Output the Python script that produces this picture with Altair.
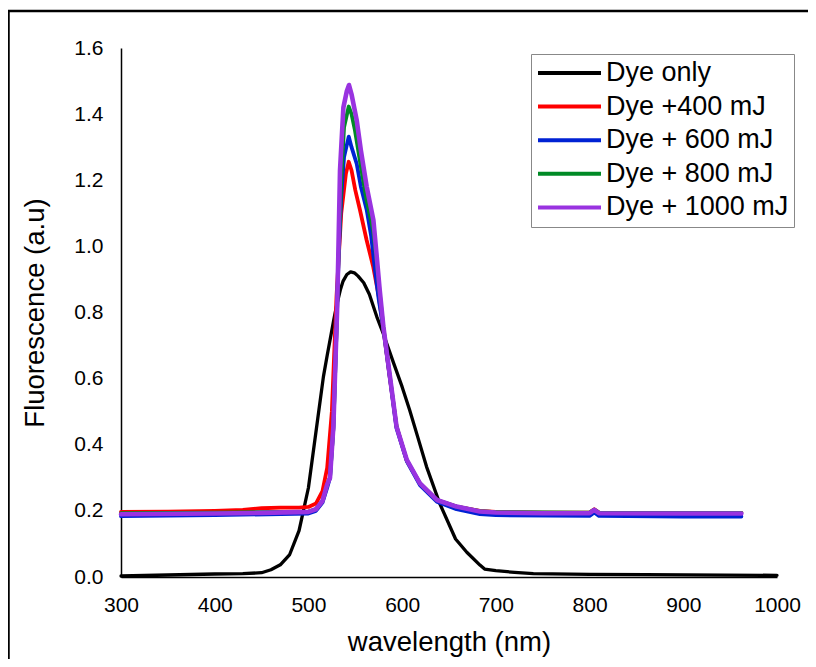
import altair as alt
import pandas as pd

FONT = "Liberation Sans"

series_names = ["Dye only", "Dye +400 mJ", "Dye + 600 mJ", "Dye + 800 mJ", "Dye + 1000 mJ"]
series_colors = ["#000000", "#ff0000", "#0022d4", "#008a25", "#9933e0"]
series_widths = [3.3, 3.8, 3.8, 3.8, 4.6]

dye_wl = [300, 350, 400, 430, 450, 460, 470, 480, 490, 500, 510, 516, 520, 527, 530, 534, 537, 541, 545,
          549, 553, 559, 565, 573, 580, 591, 600, 608, 617, 626, 640, 657, 669, 683, 688, 700, 720, 740,
          800, 860, 1000]
dye_val = [0.003, 0.006, 0.009, 0.010, 0.013, 0.022, 0.037, 0.068, 0.140, 0.270, 0.480, 0.606, 0.670,
           0.777, 0.820, 0.868, 0.895, 0.915, 0.923, 0.920, 0.910, 0.890, 0.855, 0.787, 0.735, 0.646,
           0.575, 0.505, 0.420, 0.334, 0.223, 0.115, 0.075, 0.036, 0.024, 0.019, 0.014, 0.010, 0.008,
           0.007, 0.005]

r400_wl = [300, 350, 400, 430, 450, 470, 490, 500, 508, 515, 520, 525, 530, 535, 540, 543, 546, 550,
           555, 562, 569, 575, 580, 587, 594, 605, 619, 637, 658, 683, 700, 750, 800, 805, 810, 900, 962]
r400_val = [0.197, 0.198, 0.200, 0.203, 0.208, 0.210, 0.210, 0.212, 0.222, 0.260, 0.330, 0.500, 0.850,
            1.100, 1.220, 1.256, 1.230, 1.170, 1.110, 1.020, 0.940, 0.850, 0.750, 0.600, 0.455, 0.352,
            0.283, 0.233, 0.213, 0.200, 0.197, 0.195, 0.195, 0.205, 0.195, 0.194, 0.194]

b600_wl = [300, 400, 500, 508, 515, 520, 523, 526.6, 530, 532, 535, 538, 543, 546, 551.5, 556, 562.2,
           567, 571, 575, 580, 587, 594, 605, 619, 637, 658, 683, 700, 800, 805, 810, 900, 962]
b600_val = [0.184, 0.187, 0.192, 0.200, 0.225, 0.270, 0.300, 0.450, 0.750, 0.950, 1.150, 1.270, 1.332,
            1.300, 1.250, 1.180, 1.110, 1.030, 0.929, 0.840, 0.750, 0.600, 0.450, 0.350, 0.278, 0.228,
            0.205, 0.190, 0.187, 0.185, 0.195, 0.185, 0.183, 0.183]

g800_wl = [300, 400, 500, 508, 515, 520, 523, 526.6, 530, 532, 535, 538, 543, 546, 549.7, 556, 562,
           569, 573, 576, 580, 587, 594, 605, 619, 637, 658, 683, 700, 800, 805, 810, 962]
g800_val = [0.193, 0.195, 0.198, 0.205, 0.230, 0.280, 0.300, 0.450, 0.750, 0.960, 1.200, 1.360, 1.423,
            1.400, 1.350, 1.240, 1.140, 1.050, 0.950, 0.860, 0.755, 0.605, 0.455, 0.353, 0.283, 0.233,
            0.213, 0.199, 0.196, 0.195, 0.204, 0.195, 0.194]

p1000_wl = [300, 400, 450, 500, 508, 515, 520, 523, 526.6, 530.5, 531.8, 533.7, 537.3, 541, 543.3, 546,
            551.5, 556, 562.2, 569.3, 572.9, 576, 580, 587, 594, 605, 619, 637, 658, 683, 700, 750, 800,
            805, 810, 900, 962]
p1000_val = [0.190, 0.192, 0.194, 0.197, 0.205, 0.230, 0.280, 0.300, 0.455, 0.800, 0.960, 1.230, 1.420,
             1.470, 1.488, 1.460, 1.382, 1.290, 1.180, 1.080, 0.969, 0.870, 0.757, 0.606, 0.455, 0.354,
             0.283, 0.233, 0.213, 0.198, 0.195, 0.193, 0.193, 0.203, 0.193, 0.192, 0.192]

x_ticks = [300, 400, 500, 600, 700, 800, 900, 1000]
y_ticks = [0.0, 0.2, 0.4, 0.6, 0.8, 1.0, 1.2, 1.4, 1.6]

all_series = [(dye_wl, dye_val), (r400_wl, r400_val), (b600_wl, b600_val),
              (g800_wl, g800_val), (p1000_wl, p1000_val)]

x_enc = alt.X("wavelength:Q",
              scale=alt.Scale(domain=[300, 1000], nice=False, zero=False),
              axis=alt.Axis(values=x_ticks, title="wavelength (nm)", grid=False, ticks=False,
                            labelFlush=False, labelPadding=17, titlePadding=13, format="d"))
y_enc = alt.Y("fluor:Q",
              scale=alt.Scale(domain=[0, 1.6], nice=False),
              axis=alt.Axis(values=y_ticks, title="Fluorescence (a.u)", grid=False, ticks=False,
                            labelFlush=False, format=".1f", labelPadding=18, titlePadding=24))
color_enc = alt.Color("series:N",
                      scale=alt.Scale(domain=series_names, range=series_colors),
                      legend=alt.Legend(title=None, orient="none", legendX=410, legendY=6,
                                        symbolType="stroke", symbolSize=3969, symbolStrokeWidth=4,
                                        clipHeight=28, rowPadding=5.6, labelOffset=3,
                                        labelFont=FONT, labelFontSize=27, labelColor="#000",
                                        strokeColor="#888888", padding=5, fillColor="white",
                                        labelLimit=400))

layers = []
for k, (wl, val) in enumerate(all_series):
    d = pd.DataFrame({"wavelength": wl, "fluor": val, "series": series_names[k]})
    layers.append(
        alt.Chart(d).mark_line(strokeWidth=series_widths[k], strokeJoin="round", strokeCap="round")
        .encode(x=x_enc, y=y_enc, color=color_enc, order=alt.Order("wavelength:Q"))
    )

border = pd.DataFrame({"k": [0]})
left_border = alt.Chart(border).mark_rule(color="black", strokeWidth=2.5).encode(
    x=alt.value(-112.5), y=alt.value(-37), y2=alt.value(640))
top_border = alt.Chart(border).mark_rule(color="black", strokeWidth=2.5).encode(
    x=alt.value(-113.5), x2=alt.value(720), y=alt.value(-37))

chart = alt.layer(*layers, left_border, top_border).properties(
    width=656, height=529,
    autosize=alt.AutoSizeParams(type="none"),
    padding={"left": 113, "top": 40, "right": 31, "bottom": 82},
    background="white",
).configure_view(stroke=None).configure_axis(
    domainColor="black", domainWidth=1.5,
    labelFont=FONT, labelFontSize=21, labelColor="black",
    titleFont=FONT, titleFontSize=27.5, titleFontWeight="normal", titleColor="black",
)

chart.save("out.html", embed_options={"renderer": "svg", "actions": False})
